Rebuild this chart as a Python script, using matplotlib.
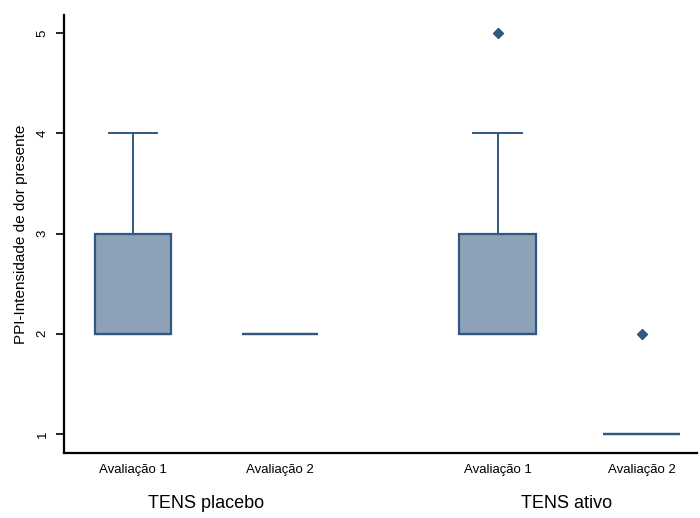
import matplotlib
matplotlib.use("Agg")
from matplotlib import pyplot as plt
from matplotlib import transforms

# box statistics
labels = ["Avaliação 1", "Avaliação 2", "Avaliação 1", "Avaliação 2"]
positions = [1, 2, 3.48, 4.46]
q1 = [2, 2, 2, 1]
med = [2, 2, 2, 1]
q3 = [3, 2, 3, 1]
whislo = [2, 2, 2, 1]
whishi = [4, 2, 4, 1]
fliers = [[], [], [5], [2]]
groups = ["TENS placebo", "TENS ativo"]
group_pos = [1.5, 3.95]

fill = "#8ea2b7"
line = "#30577f"

stats = []
for i in range(len(labels)):
    stats.append(dict(med=med[i], q1=q1[i], q3=q3[i], whislo=whislo[i],
                      whishi=whishi[i], fliers=fliers[i], label=labels[i]))

plt.rcParams['font.family'] = ['Liberation Sans', 'DejaVu Sans']

fig = plt.figure(figsize=(7, 5.18), dpi=100)
ax = fig.add_axes([0.0914, 0.1255, 0.905, 0.8455])

ax.bxp(stats, positions=positions, widths=0.52, patch_artist=True,
       boxprops=dict(facecolor=fill, edgecolor=line, linewidth=1.6),
       medianprops=dict(color=line, linewidth=1.6),
       whiskerprops=dict(color=line, linewidth=1.4),
       capprops=dict(color=line, linewidth=1.4),
       capwidths=0.33,
       flierprops=dict(marker='D', markersize=5.5, markerfacecolor=line,
                       markeredgecolor=line))

ax.set_xlim(0.53, 4.84)
ax.set_ylim(0.81, 5.18)
ax.set_yticks([1, 2, 3, 4, 5])
ax.set_yticklabels(["1", "2", "3", "4", "5"], rotation=90, va='center', fontsize=9.5)
ax.set_xticks(positions)
ax.set_xticklabels(labels, fontsize=9.5)
ax.tick_params(axis='x', length=0, pad=8)
ax.tick_params(axis='y', length=6, width=1.2, pad=5)
ax.set_ylabel("PPI-Intensidade de dor presente", fontsize=11, labelpad=6)

for s in ['top', 'right']:
    ax.spines[s].set_visible(False)
for s in ['left', 'bottom']:
    ax.spines[s].set_linewidth(1.6)

trans = transforms.blended_transform_factory(ax.transData, fig.transFigure)
for g, p in zip(groups, group_pos):
    ax.text(p, 0.012, g, transform=trans, ha='center', va='bottom', fontsize=13)

fig.savefig("out.png", dpi=100)
